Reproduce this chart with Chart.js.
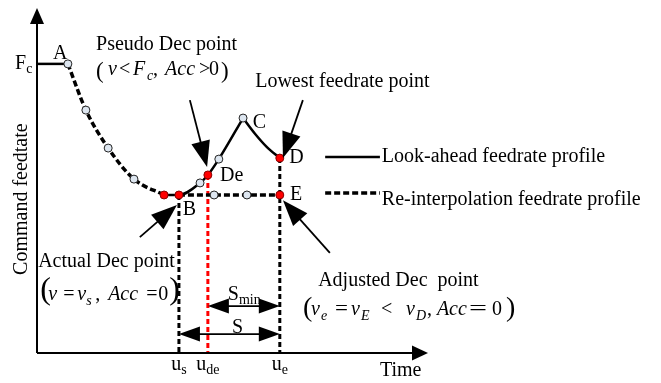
<!DOCTYPE html>
<html>
<head>
<meta charset="utf-8">
<script src="https://cdn.jsdelivr.net/npm/chart.js@4/dist/chart.umd.min.js"></script>
<style>
  html, body { margin: 0; padding: 0; background: #fff; }
  #wrap { width: 661px; height: 383px; position: relative; }
</style>
</head>
<body>
<div id="wrap"><canvas id="c" width="661" height="383"></canvas></div>
<script>
// ---- Feedrate profile (time, command feedrate), axis units 0..10 ----
const feedCommand = 8.38;                 // F_c
const uS = 3.63, uDe = 4.37, uE = 6.21;   // u_s, u_de, u_e

// constant F_c segment before A
const cruiseX = [0, 0.79];
const cruiseY = [feedCommand, feedCommand];

// re-interpolated deceleration from A down to the flat level
const decelX = [0.79, 1.25, 1.82, 2.48, 3.25];
const decelY = [8.38, 7.04, 5.94, 5.04, 4.58];

// look-ahead profile: flat, B, rise through De to C
const riseX = [3.25, 3.63, 4.17, 4.37, 4.65, 5.27];
const riseY = [4.58, 4.58, 4.93, 5.16, 5.62, 6.81];

// look-ahead profile: C down to D
const fallX = [5.27, 5.58, 5.88, 6.21];
const fallY = [6.81, 6.35, 5.97, 5.65];

// re-interpolated constant feedrate from B to E
const flatX = [3.63, 4.53, 5.37, 6.21];
const flatY = [4.58, 4.58, 4.58, 4.58];

// vertical markers
const deFeed = 5.16, dFeed = 5.65, bFeed = 4.58;

// tick labels on the time axis: [base, subscript]
const tickValues = [uS, uDe, uE];
const tickLabels = [['u', 's'], ['u', 'de'], ['u', 'e']];

const pts = (xs, ys) => xs.map((x, i) => ({ x, y: ys[i] }));

const PALE = '#dde6f0', RED = '#ff0000', INK = '#000';
const SERIF = '"Liberation Serif", "Times New Roman", serif';
const font = (size, it) => (it ? 'italic ' : '') + size + 'px ' + SERIF;

// marker helpers: kind per point ('p' pale, 'r' red, '' none)
const radii = k => k.map(c => c ? 4 : 0);
const fills = k => k.map(c => c === 'r' ? RED : PALE);
const borders = k => k.map(c => c === 'r' ? '#8b0000' : '#222');

const curveLine = (data, kinds, dash, width) => ({
  data, showLine: true, fill: false, clip: false,
  borderColor: INK, borderWidth: width, borderDash: dash,
  cubicInterpolationMode: 'monotone',
  pointRadius: radii(kinds), pointBackgroundColor: fills(kinds),
  pointBorderColor: borders(kinds), pointBorderWidth: 1
});
const plainLine = (data, color, dash, width) => ({
  data, showLine: true, fill: false, clip: false,
  borderColor: color, borderWidth: width, borderDash: dash,
  pointRadius: 0, tension: 0
});

// ---- annotations (positions in axis units) ----
const labels = [
  { t: 'A', x: 0.41, y: 8.52 },
  { t: 'C', x: 5.52, y: 6.52 },
  { t: 'D', x: 6.45, y: 5.51 },
  { t: 'De', x: 4.68, y: 4.99 },
  { t: 'E', x: 6.47, y: 4.43 },
  { t: 'B', x: 3.73, y: 4.0 },
  { t: 'Pseudo Dec point', x: 1.51, y: 8.78 },
  { t: 'Lowest feedrate point', x: 5.58, y: 7.71 },
  { t: 'Actual Dec point', x: 0.03, y: 2.49 },
  { t: 'Adjusted Dec  point', x: 7.19, y: 1.94 },
  { t: 'Time', x: 8.77, y: -0.67 },
  { t: 'Look-ahead feedrate profile', x: 8.82, y: 5.54 },
  { t: 'Re-interpolation feedrate profile', x: 8.82, y: 4.29 }
];

const callouts = [
  { from: [3.91, 7.33], to: [4.35, 5.39] },
  { from: [6.80, 7.33], to: [6.29, 5.65] },
  { from: [2.63, 3.36], to: [3.58, 4.29] },
  { from: [7.49, 2.90], to: [6.29, 4.43] }
];

// formula runs: dx in px from the formula origin
const formulas = [
  { x: 1.51, y: 8.06, runs: [
    { t: '(', dx: 0, size: 23, dy: 3 },
    { t: 'v', dx: 12, it: 1 },
    { t: '<', dx: 23 },
    { t: 'F', dx: 37, it: 1 },
    { t: 'c', dx: 51, it: 1, sub: 1 },
    { t: ',', dx: 57 },
    { t: 'Acc', dx: 69, it: 1 },
    { t: '>', dx: 103 },
    { t: '0', dx: 113 },
    { t: ')', dx: 125, size: 23, dy: 3 }
  ]},
  { x: 0.08, y: 1.54, runs: [
    { t: '(', dx: 0, size: 32, dy: -1 },
    { t: 'v', dx: 8, it: 1 },
    { t: '=', dx: 23 },
    { t: 'v', dx: 37, it: 1 },
    { t: 's', dx: 46, it: 1, sub: 1 },
    { t: ',', dx: 55 },
    { t: 'Acc', dx: 68, it: 1 },
    { t: '=', dx: 106 },
    { t: '0', dx: 118 },
    { t: ')', dx: 129, size: 32, dy: -1 }
  ]},
  { x: 6.80, y: 1.10, runs: [
    { t: '(', dx: 0, size: 28, dy: 1 },
    { t: 'v', dx: 8, it: 1 },
    { t: 'e', dx: 18, it: 1, sub: 1 },
    { t: '=', dx: 32, sx: 1.15 },
    { t: 'v', dx: 48, it: 1 },
    { t: 'E', dx: 58, it: 1, sub: 1 },
    { t: '<', dx: 78 },
    { t: 'v', dx: 103, it: 1 },
    { t: 'D', dx: 113, it: 1, sub: 1 },
    { t: ',', dx: 124 },
    { t: 'Acc', dx: 134, it: 1 },
    { t: '=', dx: 166, sx: 1.6 },
    { t: '0', dx: 189 },
    { t: ')', dx: 203, size: 28, dy: 1 }
  ]}
];

// S and S_min spans
const spans = [
  { y: 1.36, from: uDe, to: uE, label: ['S', 'min'], lx: 4.88, ly: 1.54 },
  { y: 0.55, from: uS, to: uE, label: ['S', ''], lx: 4.99, ly: 0.58 }
];

const legendLines = [
  { x0: 7.37, x1: 8.77, y: 5.68, dash: [], width: 2.5 },
  { x0: 7.37, x1: 8.77, y: 4.64, dash: [6, 3], width: 3.5 }
];

function arrowHead(ctx, x0, y0, x1, y1, len, half) {
  const a = Math.atan2(y1 - y0, x1 - x0);
  ctx.beginPath();
  ctx.moveTo(x1, y1);
  ctx.lineTo(x1 - len * Math.cos(a) + half * Math.sin(a), y1 - len * Math.sin(a) - half * Math.cos(a));
  ctx.lineTo(x1 - len * Math.cos(a) - half * Math.sin(a), y1 - len * Math.sin(a) + half * Math.cos(a));
  ctx.closePath();
  ctx.fill();
}
function arrow(ctx, x0, y0, x1, y1, len, half, lw, both) {
  const a = Math.atan2(y1 - y0, x1 - x0);
  const sx = both ? x0 + (len - 2) * Math.cos(a) : x0, sy = both ? y0 + (len - 2) * Math.sin(a) : y0;
  ctx.lineWidth = lw;
  ctx.setLineDash([]);
  ctx.beginPath();
  ctx.moveTo(sx, sy);
  ctx.lineTo(x1 - (len - 2) * Math.cos(a), y1 - (len - 2) * Math.sin(a));
  ctx.stroke();
  arrowHead(ctx, x0, y0, x1, y1, len, half);
  if (both) arrowHead(ctx, x1, y1, x0, y0, len, half);
}
function subText(ctx, base, sub, x, y, size, subSize, align) {
  ctx.font = font(size);
  const w1 = ctx.measureText(base).width;
  ctx.font = font(subSize);
  const w2 = sub ? ctx.measureText(sub).width : 0;
  let left = align === 'center' ? x - (w1 + w2) / 2 : x;
  ctx.font = font(size);
  ctx.fillText(base, left, y);
  if (sub) { ctx.font = font(subSize); ctx.fillText(sub, left + w1, y + 4); }
}

const annotate = {
  id: 'annotate',
  afterDatasetsDraw(chart) {
    const ctx = chart.ctx, sx = chart.scales.x, sy = chart.scales.y;
    const X = v => sx.getPixelForValue(v), Y = v => sy.getPixelForValue(v);
    ctx.save();
    ctx.fillStyle = INK; ctx.strokeStyle = INK;
    ctx.textBaseline = 'alphabetic'; ctx.textAlign = 'left';

    // axes with arrow heads
    arrow(ctx, X(0), Y(0), X(0), Y(10), 16, 7, 2, false);
    arrow(ctx, X(0), Y(0), X(10), Y(0), 16, 7.5, 2, false);

    // legend samples
    legendLines.forEach(l => {
      ctx.lineWidth = l.width; ctx.setLineDash(l.dash);
      ctx.beginPath(); ctx.moveTo(X(l.x0), Y(l.y)); ctx.lineTo(X(l.x1), Y(l.y)); ctx.stroke();
    });
    ctx.setLineDash([]);

    // callout arrows
    callouts.forEach(c => arrow(ctx, X(c.from[0]), Y(c.from[1]), X(c.to[0]), Y(c.to[1]), 26, 9.5, 1.8, false));

    // S spans
    spans.forEach(s => {
      arrow(ctx, X(s.from), Y(s.y), X(s.to), Y(s.y), 21, 7.5, 1.8, true);
      subText(ctx, s.label[0], s.label[1], X(s.lx), Y(s.ly), 20, 14, 'left');
    });

    // plain labels
    ctx.font = font(20);
    labels.forEach(l => ctx.fillText(l.t, X(l.x), Y(l.y)));

    // F_c
    subText(ctx, 'F', 'c', X(-0.56), Y(8.22), 20, 14, 'left');

    // time axis tick labels
    tickValues.forEach((v, i) => subText(ctx, tickLabels[i][0], tickLabels[i][1], X(v), Y(-0.49), 20, 14, 'center'));

    // formulas
    formulas.forEach(f => {
      const ox = X(f.x), oy = Y(f.y);
      f.runs.forEach(r => {
        const size = r.size || (r.sub ? 14 : 20);
        ctx.font = font(size, r.it);
        const y = oy + (r.dy || 0) + (r.sub ? 5 : 0);
        if (r.sx) {
          ctx.save(); ctx.translate(ox + r.dx, y); ctx.scale(r.sx, 1);
          ctx.fillText(r.t, 0, 0); ctx.restore();
        } else {
          ctx.fillText(r.t, ox + r.dx, y);
        }
      });
    });

    // vertical axis title
    ctx.save();
    ctx.translate(X(-0.26), Y(4.46));
    ctx.rotate(-Math.PI / 2);
    ctx.font = font(20); ctx.textAlign = 'center';
    ctx.fillText('Command feedtate', 0, 0);
    ctx.restore();

    ctx.restore();
  }
};

const chart = new Chart(document.getElementById('c'), {
  type: 'line',
  data: {
    datasets: [
      curveLine(pts(decelX, decelY), ['p', 'p', 'p', 'p', 'r'], [6, 3], 3.5),
      curveLine(pts(riseX, riseY), ['', 'r', 'p', 'r', 'p', 'p'], [], 2.5),
      curveLine(pts(fallX, fallY), ['', '', '', 'r'], [], 2.5),
      curveLine(pts(flatX, flatY), ['', 'p', 'p', 'r'], [6, 3], 3.5),
      plainLine(pts(cruiseX, cruiseY), INK, [], 2.5),
      plainLine([{ x: uS, y: bFeed }, { x: uS, y: 0 }], INK, [5, 3], 3),
      plainLine([{ x: uDe, y: deFeed }, { x: uDe, y: 0 }], RED, [5, 3], 3),
      plainLine([{ x: uE, y: dFeed }, { x: uE, y: 0 }], INK, [5, 3], 3)
    ]
  },
  options: {
    responsive: false,
    animation: false,
    devicePixelRatio: 1,
    layout: { padding: { left: 37, right: 233, top: 8, bottom: 30 } },
    scales: {
      x: { type: 'linear', min: 0, max: 10, display: false },
      y: { type: 'linear', min: 0, max: 10, display: false }
    },
    plugins: { legend: { display: false }, tooltip: { enabled: false } }
  },
  plugins: [annotate]
});
</script>
</body>
</html>
